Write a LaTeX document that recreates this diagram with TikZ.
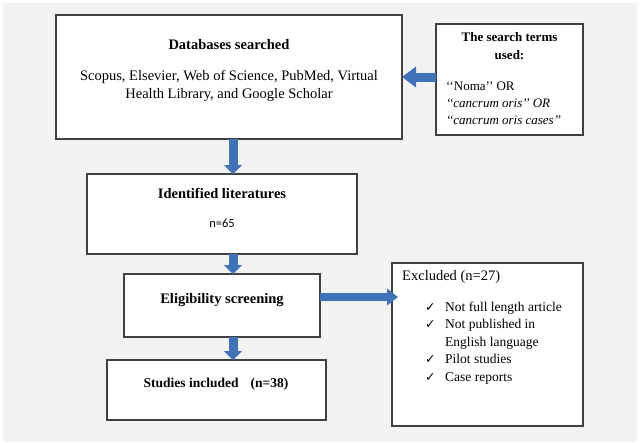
\documentclass[tikz,border=0pt]{standalone}
\usepackage{fontspec}
\setmainfont{Liberation Serif}
\newfontfamily\calfont{Carlito}
\newfontfamily\symfont{DejaVu Sans}
\usetikzlibrary{arrows.meta}
\definecolor{bggray}{RGB}{242,242,242}
\definecolor{boxline}{RGB}{64,64,64}
\definecolor{arrowblue}{RGB}{65,113,183}
\newcommand{\chk}{{\symfont\fontsize{12.5}{12.5}\selectfont ✓}}

\begin{document}
\begin{tikzpicture}[x=1pt,y=1pt,yscale=-1,
  box/.style={draw=boxline, fill=white, line width=1.1pt, inner sep=0pt, outer sep=0pt},
  txt/.style={inner sep=0pt, font=\fontsize{14.5}{18}\selectfont},
  boldtxt/.style={inner sep=0pt, font=\bfseries\fontsize{14.5}{18}\selectfont},
  fatdown/.style={line width=9pt, draw=arrowblue, -{Triangle[length=9pt,width=18pt,line width=0pt]}},
  fatleft/.style={line width=9pt, draw=arrowblue, -{Triangle[length=14pt,width=21pt,line width=0pt]}},
  fatright/.style={line width=8pt, draw=arrowblue, -{Triangle[length=11pt,width=17pt,line width=0pt]}}]
\useasboundingbox (0,0) rectangle (640,442);
% background
\fill[bggray] (3,3) rectangle (637,442);

% boxes
\node[box, minimum width=346pt, minimum height=124pt] (db) at (229,77) {};
\node[box, minimum width=147pt, minimum height=111pt] (st) at (509.5,79.5) {};
\node[box, minimum width=270pt, minimum height=80pt] (id) at (222,214) {};
\node[box, minimum width=196pt, minimum height=63pt] (elig) at (222,305.5) {};
\node[box, minimum width=219pt, minimum height=60pt] (inc) at (216.5,390) {};
\node[box, minimum width=191pt, minimum height=163pt] (ex) at (487.5,344.5) {};

% texts
\node[boldtxt] (dbhead) at (229,45) {Databases searched};
\node[txt, align=center] (dblist) at (229,86) {Scopus, Elsevier, Web of Science, PubMed, Virtual\\Health Library, and Google Scholar};
\node[boldtxt, font=\bfseries\fontsize{13}{18}\selectfont, align=center] (sthead) at (509.5,46) {The search terms\\used:};
\node[txt, font=\fontsize{13}{17}\selectfont, anchor=west, align=left] (stlist) at (446,103)
  {\textquoteleft\textquoteleft Noma\textquoteright\textquoteright{} OR\\
   \textit{\textquoteleft\textquoteleft cancrum oris\textquoteright\textquoteright{} OR}\\
   \textit{\textquoteleft\textquoteleft cancrum oris cases\textquoteright\textquoteright}};
\node[boldtxt] (idhead) at (222,193) {Identified literatures};
\node[inner sep=0pt, font=\calfont\fontsize{12.5}{15}\selectfont] (idn) at (222,223) {n=65};
\node[boldtxt] (elighead) at (222,300) {Eligibility screening};
\node[boldtxt, font=\bfseries\fontsize{13.5}{17}\selectfont] (inchead) at (216,384) {Studies included\hspace{12pt}(n=38)};
\node[txt, anchor=west] (exhead) at (402,277) {Excluded (n=27)};
\node[inner sep=0pt, anchor=north west] (exlist) at (425,299) {\fontsize{13.5}{17.5}\selectfont
  \begin{tabular}{@{}p{20pt}@{}l@{}}
  \chk & Not full length article\\
  \chk & Not published in\\
       & English language\\
  \chk & Pilot studies\\
  \chk & Case reports
  \end{tabular}};

% arrows
\coordinate (spine) at (233,0);
\draw[fatdown] (spine |- db.south) -- (spine |- id.north);
\draw[fatdown] (spine |- id.south) -- (spine |- elig.north);
\draw[fatdown] (spine |- elig.south) -- (spine |- inc.north);
\draw[fatleft] (st.west |- db.east) -- (db.east);
\coordinate (exfrom) at ([yshift=-8.5pt]elig.east);
\coordinate (exto) at ([xshift=6pt]ex.west);
\draw[fatright] (exfrom) -- (exfrom -| exto);

\end{tikzpicture}
\end{document}
